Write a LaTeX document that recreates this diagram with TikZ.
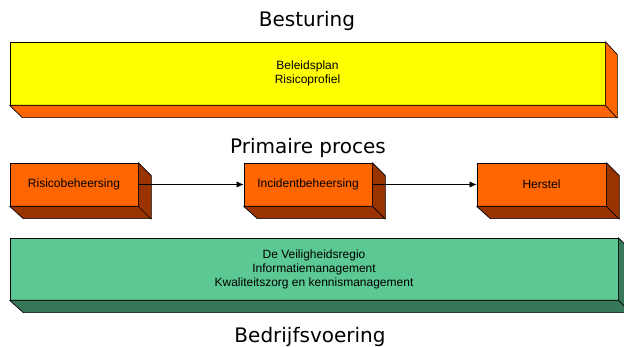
\documentclass[tikz,border=0pt]{standalone}
\usepackage{fontspec}
\setmainfont{Liberation Sans}
\newfontfamily\titlefont{DejaVu Sans}
\usetikzlibrary{arrows.meta}
\definecolor{yel}{RGB}{255,255,0}
\definecolor{org}{RGB}{255,102,0}
\definecolor{orgdark}{RGB}{153,51,0}
\definecolor{grn}{RGB}{92,200,147}
\definecolor{grndark}{RGB}{54,120,88}
\tikzset{
  face/.style={draw=black, line width=0.7pt, inner sep=0pt, align=center,
    font=\fontsize{12}{14}\selectfont},
  side/.style={draw=black, line width=0.7pt, line join=round},
  title/.style={font=\titlefont\fontsize{20}{24}\selectfont, anchor=base, inner sep=0pt},
  flow/.style={line width=0.6pt, -{Latex[length=7pt,width=6pt]}}
}
\begin{document}
\begin{tikzpicture}[x=1pt,y=-1pt]
\useasboundingbox (0,0) rectangle (624,347);
\clip (0,0) rectangle (624,347);
% titles
\node[title] (t1) at (307,27) {Besturing};
\node[title] (t2) at (308,154) {Primaire proces};
\node[title] (t3) at (310,343) {Bedrijfsvoering};
% Besturing box
\node[face, fill=yel, minimum width=595pt, minimum height=63pt] (bes) at (307.5,73.5) {Beleidsplan\\Risicoprofiel};
\fill[org, side] (bes.north east) -- ++(12,13) -- ++(0,63) -- ++(-595,0) -- (bes.south west) -- (bes.south east) -- (bes.north east) -- cycle;
\draw[side] (bes.south east) -- ++(12,13);
% Primaire proces boxes
\node[face, fill=org, minimum width=128pt, minimum height=43pt] (rb) at (74,184.5) {Risicobeheersing};
\node[face, fill=org, minimum width=128pt, minimum height=43pt] (ib) at (308,184.5) {Incidentbeheersing};
\node[face, fill=org, minimum width=129pt, minimum height=43pt] (hs) at (541.5,184.5) {Herstel};
\foreach \n/\w in {rb/128,ib/128,hs/129}{
  \fill[orgdark, side] (\n.north east) -- ++(13,13) -- ++(0,43) -- ++(-\w,0) -- (\n.south west) -- (\n.south east) -- (\n.north east) -- cycle;
  \draw[side] (\n.south east) -- ++(13,13);
}
% Bedrijfsvoering box
\node[face, fill=grn, minimum width=608pt, minimum height=62pt] (bv) at (314,269) {De Veiligheidsregio\\Informatiemanagement\\Kwaliteitszorg en kennismanagement};
\fill[grndark, side] (bv.north east) -- ++(13,13) -- ++(0,62) -- ++(-608,0) -- (bv.south west) -- (bv.south east) -- (bv.north east) -- cycle;
\draw[side] (bv.south east) -- ++(13,13);
% connectors
\draw[flow] (rb.east) -- (ib.west);
\draw[flow] (ib.east) -- (hs.west);
\end{tikzpicture}
\end{document}
